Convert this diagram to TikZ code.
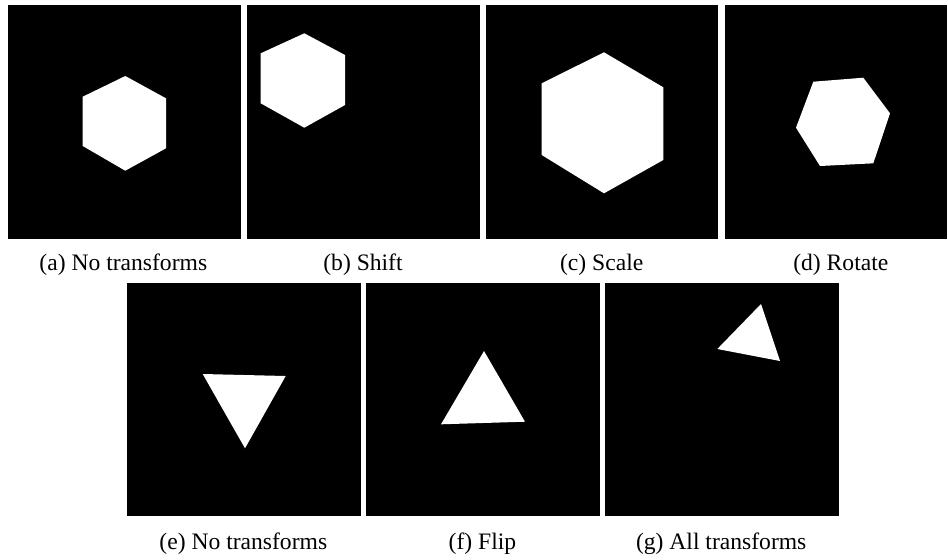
\documentclass[tikz,border=0pt]{standalone}
\usepackage{fontspec}
\setmainfont{Liberation Serif}
\tikzset{
  panel/.style={fill=black},
  blob/.style={fill=white},
  caption/.style={anchor=base, inner sep=0pt, font=\fontsize{11.8}{14}\selectfont}
}
\begin{document}
\begin{tikzpicture}
    [x=0.5pt,y=-0.5pt]
    \useasboundingbox (0,0) rectangle (948,559);
    %panels top row
    \fill[panel] (8,5) rectangle (240.7,238.7);
    \fill[panel] (247,5) rectangle (480,238.7);
    \fill[panel] (486,5) rectangle (718.3,238.7);
    \fill[panel] (725,5) rectangle (947,238.7);
    %panels bottom row
    \fill[panel] (126.7,282.7) rectangle (360.7,515.7);
    \fill[panel] (366,282.7) rectangle (600,515.7);
    \fill[panel] (605,282.7) rectangle (839,515.7);
    %hexagons
    \fill[blob] (125.3,76)--(166,98.3)--(166,148.3)--(125.3,170.7)--(82.7,146)--(82.7,96.7)--cycle;
    \fill[blob] (304.3,33.3)--(345,55)--(345,105)--(304.3,127.7)--(260.7,103.3)--(260.7,53.3)--cycle;
    \fill[blob] (604,52.3)--(663.3,87.3)--(663.3,160)--(604,193.3)--(541.7,155)--(541.7,83.3)--cycle;
    \fill[blob] (813.3,81.7)--(863.3,77.7)--(890,113.3)--(873.3,163.3)--(820,166)--(796,127.7)--cycle;
    %triangles
    \fill[blob] (202.7,374)--(285.7,376)--(245,448.3)--cycle;
    \fill[blob] (484,351)--(525,421.7)--(441,424.3)--cycle;
    \fill[blob] (761,304)--(780,361)--(717.3,349)--cycle;
    %captions top row
    \node[caption] (capA) at (123.3,270) {(a) No transforms};
    \node[caption] (capB) at (363,270) {(b) Shift};
    \node[caption] (capC) at (601.7,270) {(c) Scale};
    \node[caption] (capD) at (840.8,270) {(d) Rotate};
    %captions bottom row
    \node[caption] (capE) at (243.3,549) {(e) No transforms};
    \node[caption] (capF) at (482.5,549) {(f) Flip};
    \node[caption] (capG) at (721.2,549) {(g) All transforms};
\end{tikzpicture}
\end{document}
